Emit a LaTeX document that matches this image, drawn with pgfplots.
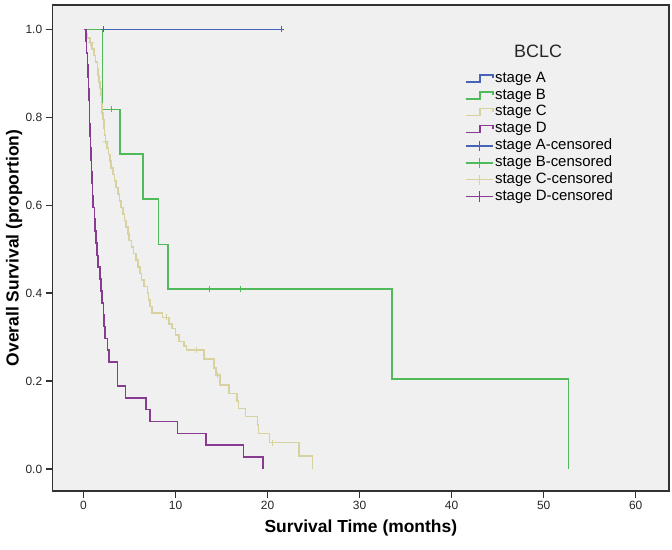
\documentclass[border=0pt]{standalone}
\usepackage{fontspec}
\setmainfont{Liberation Sans}
\usepackage{pgfplots}
\pgfplotsset{compat=1.18}
\definecolor{cA}{RGB}{70,100,180}
\definecolor{cB}{RGB}{80,185,90}
\definecolor{cC}{RGB}{215,210,160}
\definecolor{cD}{RGB}{135,60,145}
\definecolor{bgc}{RGB}{240,240,240}
\definecolor{framec}{RGB}{50,50,50}
\begin{document}
\begin{tikzpicture}
\begin{axis}[
  scale only axis, width=616.3bp, height=486bp,
  xmin=-3.35, xmax=63.62, ymin=-0.050, ymax=1.0553,
  axis background/.style={fill=bgc},
  axis line style={draw=framec, line width=1.4bp},
  xtick={0,10,20,30,40,50,60}, ytick={0,0.2,0.4,0.6,0.8,1},
  tick align=outside, major tick length=7bp,
  tick style={draw=framec, line width=1.3bp},
  xtick pos=bottom, ytick pos=left,
  yticklabel style={/pgf/number format/.cd, fixed, fixed zerofill, precision=1},
  /pgf/number format/assume math mode=true,
  ticklabel style={font=\fontsize{12}{14}\selectfont, text=black!85},
  xlabel={Survival Time (months)}, ylabel={Overall Survival (proportion)},
  label style={font=\fontsize{17.5}{20}\selectfont\bfseries},
  xlabel style={at={(axis description cs:0.5,-0.0761)}, anchor=center},
  ylabel style={at={(axis description cs:-0.0628,0.5)}, anchor=center},
  legend style={at={(rel axis cs:0.669,0.8667)}, anchor=north west, draw=none, fill=none,
    font=\fontsize{15}{17}\selectfont, row sep=0pt, inner sep=0pt,
    nodes={inner sep=1.5bp, text height=10.7bp, text depth=3.2bp}},
  legend cell align=left,
]
\coordinate (ll) at (rel axis cs:0,0);
\coordinate (ur) at (rel axis cs:1,1);
% stage A
\addplot[const plot, draw=cA, line width=1.6bp, legend image code/.code={\draw[cA, line width=1.4bp] (0bp,-3.5bp) -- (14bp,-3.5bp) -- (14bp,3.5bp) -- (27bp,3.5bp) -- (27bp,0bp);}]
  coordinates {(0,1) (21.5,1)};
\addlegendentry{stage A}
% stage B
\addplot[const plot, draw=cB, line width=1.6bp, legend image code/.code={\draw[cB, line width=1.4bp] (0bp,-3.5bp) -- (14bp,-3.5bp) -- (14bp,3.5bp) -- (27bp,3.5bp) -- (27bp,0bp);}]
  coordinates {(0,1) (2.05,0.818) (3.95,0.716) (6.45,0.614) (8.15,0.511) (9.15,0.409) (33.5,0.205) (52.7,0)};
\addlegendentry{stage B}
% stage C
\addplot[const plot, draw=cC, line width=1.6bp, legend image code/.code={\draw[cC, line width=1.4bp] (0bp,-3.5bp) -- (14bp,-3.5bp) -- (14bp,3.5bp) -- (27bp,3.5bp) -- (27bp,0bp);}]
  coordinates {(0,1) (0.2,0.99) (0.45,0.98) (0.7,0.97) (0.95,0.955) (1.15,0.94) (1.3,0.925)
  (1.5,0.91) (1.6,0.895) (1.7,0.88) (1.8,0.865) (1.88,0.85) (1.95,0.83) (2.02,0.81)
  (2.1,0.795) (2.2,0.775) (2.3,0.76) (2.38,0.745) (2.55,0.73) (2.7,0.715) (2.85,0.70)
  (3.0,0.685) (3.2,0.67) (3.35,0.655) (3.55,0.64) (3.75,0.625) (3.9,0.61) (4.1,0.595)
  (4.3,0.58) (4.45,0.565) (4.6,0.55) (4.8,0.535) (4.95,0.52) (5.2,0.505) (5.45,0.49)
  (5.7,0.475) (5.95,0.46) (6.15,0.445) (6.3,0.43) (6.6,0.415) (6.95,0.40) (7.05,0.385)
  (7.2,0.37) (7.45,0.355) (8.6,0.345) (9.3,0.33) (9.6,0.32) (10.0,0.305) (10.4,0.29)
  (10.9,0.28) (11.2,0.27) (13.1,0.25) (14.2,0.23) (14.4,0.214) (14.8,0.191) (15.8,0.172)
  (16.7,0.155) (16.85,0.138) (17.6,0.119) (18.9,0.10) (19.0,0.081) (20.2,0.06)
  (23.4,0.03) (24.9,0)};
\addlegendentry{stage C}
% stage D
\addplot[const plot, draw=cD, line width=1.6bp, legend image code/.code={\draw[cD, line width=1.4bp] (0bp,-3.5bp) -- (14bp,-3.5bp) -- (14bp,3.5bp) -- (27bp,3.5bp) -- (27bp,0bp);}]
  coordinates {(0,1) (0.25,0.973) (0.34,0.946) (0.42,0.919) (0.5,0.892) (0.56,0.865)
  (0.6,0.838) (0.63,0.811) (0.66,0.784) (0.71,0.757) (0.75,0.730) (0.8,0.703) (0.85,0.676)
  (0.89,0.649) (0.97,0.622) (1.06,0.595) (1.18,0.568) (1.26,0.541) (1.35,0.514)
  (1.45,0.486) (1.6,0.459) (1.8,0.432) (1.9,0.405) (2.0,0.378) (2.16,0.351) (2.25,0.324)
  (2.34,0.297) (2.6,0.270) (2.8,0.243) (3.67,0.189) (4.58,0.162) (6.76,0.135)
  (7.23,0.108) (10.2,0.081) (13.3,0.054) (17.4,0.027) (19.5,0)};
\addlegendentry{stage D}
% censored
\addplot[only marks, mark=+, mark size=3bp, color=cA, mark options={line width=1.2bp, draw=cA},
  legend image code/.code={\draw[cA, line width=1.2bp] (0bp,0bp) -- (27bp,0bp); \draw[cA, line width=1.2bp] (13.5bp,-5.3bp) -- (13.5bp,5.3bp);}]
  coordinates {(2.2,1) (21.5,1)};
\addlegendentry{stage A-censored}
\addplot[only marks, mark=+, mark size=3bp, color=cB, mark options={line width=1.2bp, draw=cB},
  legend image code/.code={\draw[cB, line width=1.2bp] (0bp,0bp) -- (27bp,0bp); \draw[cB, line width=1.2bp] (13.5bp,-5.3bp) -- (13.5bp,5.3bp);}]
  coordinates {(3.05,0.818) (13.65,0.409) (17.1,0.409)};
\addlegendentry{stage B-censored}
\addplot[only marks, mark=+, mark size=3bp, color=cC, mark options={line width=1.2bp, draw=cC},
  legend image code/.code={\draw[cC, line width=1.2bp] (0bp,0bp) -- (27bp,0bp); \draw[cC, line width=1.2bp] (13.5bp,-5.3bp) -- (13.5bp,5.3bp);}]
  coordinates {(0.8,0.97) (2.4,0.745) (9.0,0.345) (12.3,0.27) (14.6,0.214) (20.5,0.06)};
\addlegendentry{stage C-censored}
\addlegendimage{legend image code/.code={\draw[cD, line width=1.2bp] (0bp,0bp) -- (27bp,0bp); \draw[cD, line width=1.2bp] (13.5bp,-5.3bp) -- (13.5bp,5.3bp);}}
\addlegendentry{stage D-censored}
\node[font=\fontsize{18}{20}\selectfont, text=black!85] at (rel axis cs:0.7875,0.9039) {BCLC};
\end{axis}
\pgfresetboundingbox
\path ([shift={(-52.7bp,-58bp)}]ll) rectangle ([shift={(3bp,5bp)}]ur);
\end{tikzpicture}
\end{document}
